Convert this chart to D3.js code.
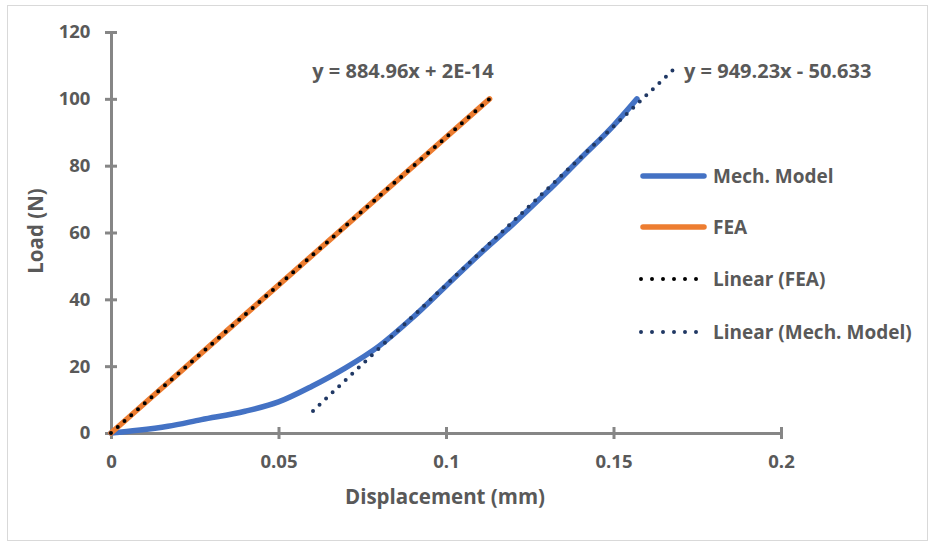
<!DOCTYPE html>
<html><head><meta charset="utf-8">
<script src="https://cdn.jsdelivr.net/npm/d3@7"></script>
<style>
body{margin:0;background:#fff;}
text{font-family:"Open Sans",Lato,sans-serif;}
</style></head>
<body><svg id="c" width="935" height="546"></svg>
<script>
const xTicks=[0,0.05,0.1,0.15,0.2];
const yTicks=[0,20,40,60,80,100,120];
const mechX=[0,0.008,0.017,0.027,0.04,0.05,0.06,0.07,0.08,0.09,0.1,0.11,0.12,0.13,0.14,0.15,0.157];
const mechY=[0,0.8,2,4,6.5,9.3,14,19.5,26,34.5,44,53.5,62.5,72,82,92,100];
const feaX=[0,0.113];
const feaY=[0,100];
const feaTrendX=[0,0.113];
const feaTrendY=feaTrendX.map(x=>884.96*x+2e-14);
const mechTrendX=[0.0603,0.168];
const mechTrendY=mechTrendX.map(x=>949.23*x-50.633);
const legendNames=["Mech. Model","FEA","Linear (FEA)","Linear (Mech. Model)"];
const eqFEA="y = 884.96x + 2E-14";
const eqMech="y = 949.23x - 50.633";

const svg=d3.select("#c");
svg.append("rect").attr("x",7.5).attr("y",5.5).attr("width",920).attr("height",535).attr("fill","#fff").attr("stroke","#d9d9d9").attr("stroke-width",1);
const x=d3.scaleLinear().domain([0,0.2]).range([111,781]);
const y=d3.scaleLinear().domain([0,120]).range([433,32]);
const axCol="#868686", txt="#595959";

// axes
const gx=svg.append("g").attr("transform","translate(0,433)")
 .call(d3.axisBottom(x).tickValues(xTicks).tickSize(0).tickFormat(d=>d3.format("")(d)));
gx.select(".domain").attr("stroke",axCol).attr("stroke-width",3);
gx.selectAll("text").attr("fill",txt).attr("font-size",18.5).attr("font-weight","bold").attr("dy","1.72em");
gx.selectAll(".tick").append("line").attr("y1",-6).attr("y2",6).attr("stroke",axCol).attr("stroke-width",3);
const gy=svg.append("g").attr("transform","translate(111,0)")
 .call(d3.axisLeft(y).tickValues(yTicks).tickSize(0));
gy.select(".domain").attr("stroke",axCol).attr("stroke-width",3);
gy.selectAll("text").attr("fill",txt).attr("font-size",18.5).attr("font-weight","bold").attr("dx","-0.95em");
gy.selectAll(".tick").append("line").attr("x1",-6).attr("x2",6).attr("stroke",axCol).attr("stroke-width",3);

const line=d3.line().x(d=>x(d[0])).y(d=>y(d[1]));
const mech=mechX.map((v,i)=>[v,mechY[i]]);
const fea=feaX.map((v,i)=>[v,feaY[i]]);
const feaT=feaTrendX.map((v,i)=>[v,feaTrendY[i]]);
const mechT=mechTrendX.map((v,i)=>[v,mechTrendY[i]]);
const lineC=d3.line().curve(d3.curveMonotoneX).x(d=>x(d[0])).y(d=>y(d[1]));
svg.append("path").attr("d",lineC(mech)).attr("fill","none").attr("stroke","#4472C4").attr("stroke-width",5.5).attr("stroke-linecap","round");
svg.append("path").attr("d",line(fea)).attr("fill","none").attr("stroke","#ED7D31").attr("stroke-width",5.5).attr("stroke-linecap","round");
svg.append("path").attr("d",line(feaT)).attr("fill","none").attr("stroke","#000").attr("stroke-width",4).attr("stroke-linecap","round").attr("stroke-dasharray","0 9");
svg.append("path").attr("d",line(mechT)).attr("fill","none").attr("stroke","#203864").attr("stroke-width",4).attr("stroke-linecap","round").attr("stroke-dasharray","0 9");

// equations
svg.append("text").attr("x",403).attr("y",78).attr("text-anchor","middle").attr("fill",txt).attr("font-size",20).attr("font-weight","bold").text(eqFEA);
svg.append("text").attr("x",684).attr("y",78).attr("fill",txt).attr("font-size",20).attr("font-weight","bold").text(eqMech);

// axis titles
svg.append("text").attr("x",445).attr("y",504).attr("text-anchor","middle").attr("fill",txt).attr("font-size",20.5).attr("font-weight","bold").text("Displacement (mm)");
svg.append("text").attr("transform","translate(43,231) rotate(-90)").attr("text-anchor","middle").attr("fill",txt).attr("font-size",20.5).attr("font-weight","bold").text("Load (N)");

// legend
const ly=[176,227,279,332];
const styles=[{c:"#4472C4",d:null,w:5.5},{c:"#ED7D31",d:null,w:5.5},{c:"#000",d:"0 11",w:4},{c:"#203864",d:"0 11",w:4}];
legendNames.forEach((n,i)=>{
  const s=styles[i];
  const l=svg.append("line").attr("x1",643).attr("x2",704).attr("y1",ly[i]).attr("y2",ly[i]).attr("stroke",s.c).attr("stroke-width",s.w).attr("stroke-linecap","round");
  if(s.d) l.attr("x1",641).attr("x2",707).attr("stroke-dasharray",s.d);
  svg.append("text").attr("x",713).attr("y",ly[i]).attr("dy","0.35em").attr("fill",txt).attr("font-size",19).attr("font-weight","bold").text(n);
});
</script></body></html>
